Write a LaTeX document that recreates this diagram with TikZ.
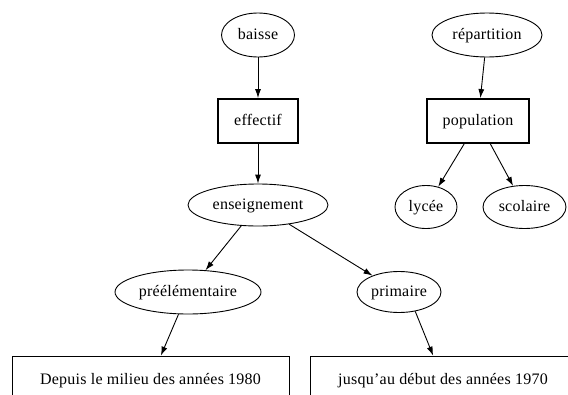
\documentclass[tikz,border=0pt]{standalone}
\usepackage{fontspec}
\setmainfont{Liberation Serif}[LetterSpace=1.5]
\usetikzlibrary{shapes.geometric,arrows.meta}
\begin{document}
\begin{tikzpicture}[x=1pt,y=-1pt,
  every node/.style={font=\fontsize{16}{19}\selectfont, inner sep=0pt,
    text height=10.5pt, text depth=2.5pt},
  oval/.style={ellipse, draw, line width=0.9pt},
  tbox/.style={rectangle, draw, line width=1.8pt},
  pbox/.style={rectangle, draw, line width=0.8pt},
  arr/.style={line width=0.9pt, -{Latex[length=9pt,width=6pt]}}]
\useasboundingbox (0,0) rectangle (568,394);
% upper chains
\node[oval, minimum width=73, minimum height=44] (baisse) at (258,35) {baisse};
\node[tbox, minimum width=80, minimum height=44] (effectif) at (258,121) {effectif};
\node[oval, minimum width=140, minimum height=42] (ens) at (258,205) {enseignement};
\node[oval, minimum width=110, minimum height=44] (rep) at (487,35) {répartition};
\node[tbox, minimum width=102, minimum height=44] (pop) at (478,121) {population};
\node[oval, minimum width=62, minimum height=43] (lycee) at (426,207) {lycée};
\node[oval, minimum width=83, minimum height=43] (scol) at (524.5,207) {scolaire};
% lower level
\node[oval, minimum width=146, minimum height=44] (pre) at (188,292) {préélémentaire};
\node[oval, minimum width=84, minimum height=41] (prim) at (399,292) {primaire};
\node[pbox, minimum width=277, minimum height=48] (depuis) at (150.5,380) {Depuis le milieu des années 1980};
\node[pbox, minimum width=266, minimum height=48] (jusq) at (443,380) {jusqu'au début des années 1970};
% connectors
\draw[arr] (baisse) -- (effectif);
\draw[arr] (effectif) -- (ens);
\draw[arr] (rep) -- (pop);
\draw[arr] (pop) -- (lycee);
\draw[arr] (pop) -- (scol);
\draw[arr] (ens) -- (pre);
\draw[arr] (ens) -- (prim);
\draw[arr] (pre) -- (depuis);
\draw[arr] (prim.-50) -- (jusq);
\end{tikzpicture}
\end{document}
